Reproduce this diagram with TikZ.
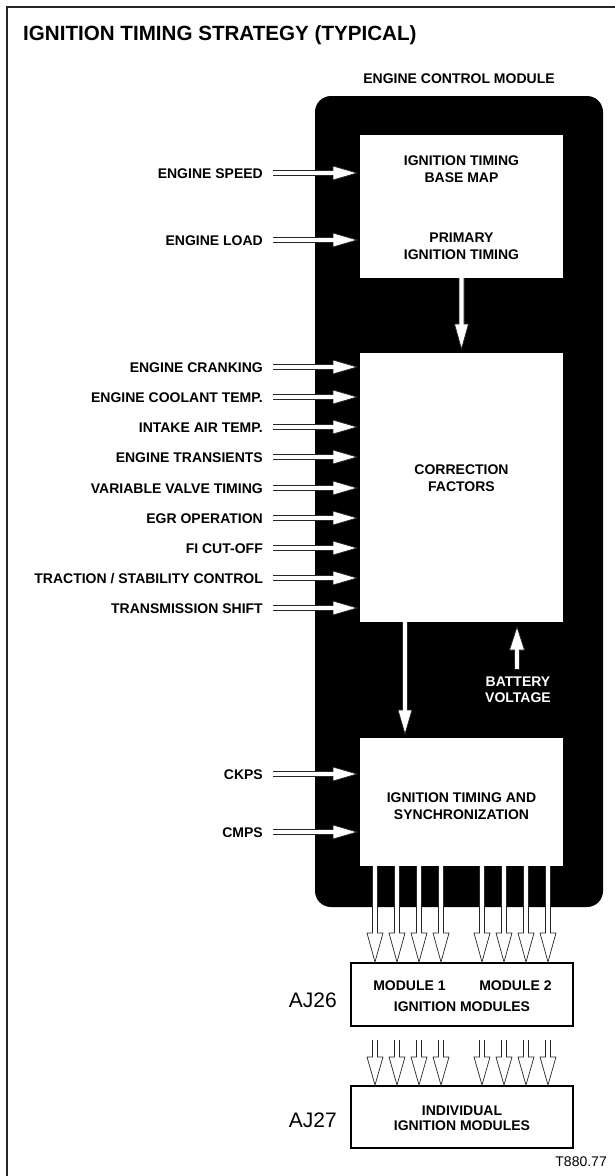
\documentclass[tikz,border=0pt]{standalone}
\usepackage{fontspec}
\setmainfont{Liberation Sans}
\usetikzlibrary{calc}
% horizontal arrow: start, tip, head length, head half width
\newcommand\HArrow[4]{%
  \coordinate (hb) at ($(#2)!#3!(#1)$);
  \filldraw[arrfill] ($(#1)+(0,-2.5)$) -- ($(hb)+(0,-2.5)$) -- ($(hb)+(0,-#4)$) -- (#2)
    -- ($(hb)+(0,#4)$) -- ($(hb)+(0,2.5)$) -- ($(#1)+(0,2.5)$);}
% vertical arrow: start, tip, head length, head half width
\newcommand\VArrow[4]{%
  \coordinate (hb) at ($(#2)!#3!(#1)$);
  \filldraw[arrfill] ($(#1)+(-2.5,0)$) -- ($(hb)+(-2.5,0)$) -- ($(hb)+(-#4,0)$) -- (#2)
    -- ($(hb)+(#4,0)$) -- ($(hb)+(2.5,0)$) -- ($(#1)+(2.5,0)$);}
% input label + arrow: name, y, text, target box
\newcommand\InArrow[4]{%
  \node[lbl, anchor=base east] (#1) at (263,#2+5) {#3};
  \coordinate (#1s) at (273,#2);
  \coordinate (#1t) at ($(#4.west |- #1s)+(-3,0)$);
  \HArrow{#1s}{#1t}{24pt}{7}}
\begin{document}
\begin{tikzpicture}[x=1pt,y=-1pt,
  lbl/.style={font=\fontsize{14}{17}\selectfont\bfseries, inner sep=0pt},
  boxtxt/.style={font=\fontsize{14}{17}\selectfont\bfseries, align=center, inner sep=0pt},
  arrfill/.style={fill=white, draw=black!85, line width=0.7pt, line join=miter},
  wbox/.style={fill=white, draw=none, inner sep=0pt, outer sep=0pt},
  obox/.style={fill=white, draw=black, line width=1.3pt, inner sep=0pt, outer sep=0pt}]
\useasboundingbox (0,0) rectangle (615,1176);
% frame
\draw[line width=1.4pt, black!85] (615,7) -- (7,7) -- (7,1176);
% title
\node[anchor=base west, font=\fontsize{20.6}{24}\selectfont\bfseries, inner sep=0pt] (title) at (23,40) {IGNITION TIMING STRATEGY (TYPICAL)};
\node[lbl, anchor=north] (ecmlbl) at (459,74) {ENGINE CONTROL MODULE};
% ECM black body
\node[fill=black, rounded corners=16pt, minimum width=288pt, minimum height=811pt, inner sep=0pt, outer sep=0pt] (ecm) at (459,501.5) {};
% white boxes
\node[wbox, minimum width=203pt, minimum height=143pt] (base) at (461.5,206.5) {};
\node[wbox, minimum width=203pt, minimum height=269pt] (corr) at (461.5,487.5) {};
\node[wbox, minimum width=203pt, minimum height=128pt] (sync) at (461.5,802) {};
\node[obox, minimum width=222pt, minimum height=63pt] (aj26) at (462,994.5) {};
\node[obox, minimum width=222pt, minimum height=62pt] (aj27) at (462,1117) {};
% box texts
\node[boxtxt, anchor=north] (t1) at (461.5,156) {IGNITION TIMING\\BASE MAP};
\node[boxtxt, anchor=north] (t2) at (461.5,233) {PRIMARY\\IGNITION TIMING};
\node[boxtxt, anchor=north] (t3) at (461.5,465) {CORRECTION\\FACTORS};
\node[boxtxt, anchor=north] (t4) at (461.5,793) {IGNITION TIMING AND\\SYNCHRONIZATION};
\node[boxtxt, anchor=north] (m1) at (409.5,981) {MODULE 1};
\node[boxtxt, anchor=north] (m2) at (515.5,981) {MODULE 2};
\node[boxtxt, anchor=north] (m3) at (462,1002) {IGNITION MODULES};
\node[boxtxt, anchor=north, font=\fontsize{14}{15}\selectfont\bfseries] (m4) at (462,1106) {INDIVIDUAL\\IGNITION MODULES};
\node[anchor=base east, inner sep=0pt, font=\fontsize{21}{24}\selectfont] (aj26lbl) at (337,1007) {AJ26};
\node[anchor=base east, inner sep=0pt, font=\fontsize{21}{24}\selectfont] (aj27lbl) at (337,1127) {AJ27};
\node[anchor=base east, inner sep=0pt, font=\fontsize{14}{16}\selectfont] (ref) at (607,1166) {T880.77};
% battery
\node[boxtxt, anchor=north, text=white, font=\fontsize{14}{16}\selectfont\bfseries] (batt) at (518,677) {BATTERY\\VOLTAGE};
\coordinate (bs) at ($(batt.north)+(-1,-8)$);
\coordinate (bt) at ($(batt.north)+(-1,-50)$);
\VArrow{bs}{bt}{23pt}{7.5}
% inputs
\InArrow{speed}{173}{ENGINE SPEED}{base}
\InArrow{load}{240}{ENGINE LOAD}{base}
\InArrow{crank}{367}{ENGINE CRANKING}{corr}
\InArrow{cool}{397}{ENGINE COOLANT TEMP.}{corr}
\InArrow{iat}{427}{INTAKE AIR TEMP.}{corr}
\InArrow{trn}{457}{ENGINE TRANSIENTS}{corr}
\InArrow{vvt}{488}{VARIABLE VALVE TIMING}{corr}
\InArrow{egr}{518}{EGR OPERATION}{corr}
\InArrow{fi}{548}{FI CUT-OFF}{corr}
\InArrow{tsc}{578}{TRACTION / STABILITY CONTROL}{corr}
\InArrow{tsh}{608}{TRANSMISSION SHIFT}{corr}
\InArrow{ckps}{774}{CKPS}{sync}
\InArrow{cmps}{832}{CMPS}{sync}
% internal flow
\coordinate (a1s) at (base.south);
\coordinate (a1t) at ($(corr.north)+(0,-4)$);
\VArrow{a1s}{a1t}{25pt}{7}
\coordinate (a2s) at (405,622);
\coordinate (a2t) at ($(a2s |- sync.north)+(0,-4)$);
\VArrow{a2s}{a2t}{24pt}{7}
% outputs
\foreach \xx [count=\i] in {375,397,419,441,482,504,526,548} {
  \coordinate (oa\i) at (\xx,866);
  \coordinate (ob\i) at ($(oa\i |- aj26.north)+(0,-1)$);
  \VArrow{oa\i}{ob\i}{29pt}{8}
  \coordinate (pa\i) at (\xx,1040);
  \coordinate (pb\i) at ($(pa\i |- aj27.north)+(0,-1)$);
  \VArrow{pa\i}{pb\i}{28pt}{8}
}
\end{tikzpicture}
\end{document}
